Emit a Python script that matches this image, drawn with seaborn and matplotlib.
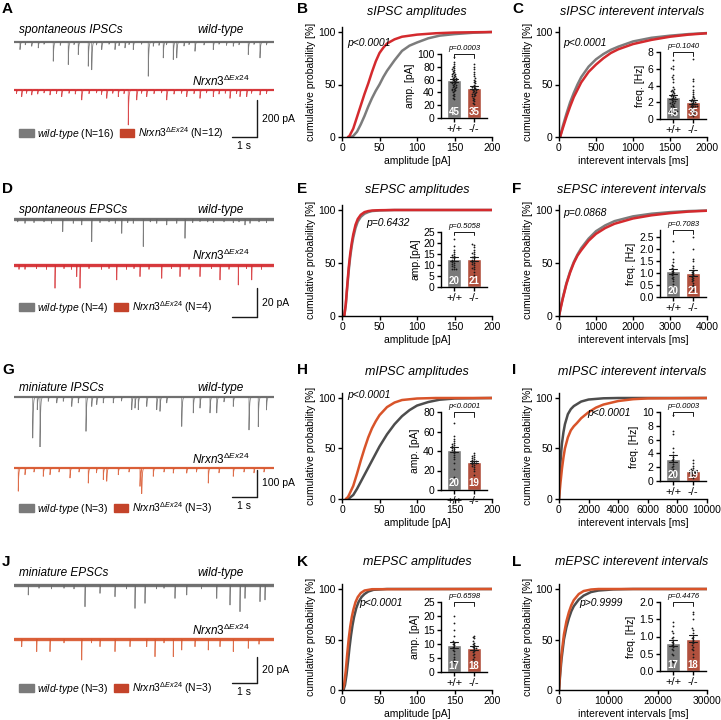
import numpy as np
import pandas as pd
import matplotlib
matplotlib.use("Agg")
import matplotlib.pyplot as plt
import seaborn as sns
from matplotlib.patches import Patch

# ---- example traces: event times [s] and amplitudes [pA] ----
sipsc_wt_t = [0.24, 0.45, 0.71, 0.97, 1.2, 1.57, 1.85, 2.17, 2.4, 2.57, 2.97, 3.11, 3.3, 3.51, 3.8, 4.04, 4.2,
              4.44, 4.6, 4.77, 5.1, 5.37, 5.57, 5.8, 5.97, 6.1, 6.37, 6.51, 6.8, 7.0, 7.24, 7.6, 7.97, 8.2,
              8.5, 8.77, 9.0, 9.37, 9.6, 9.84, 10.1]
sipsc_wt_a = [41, 15, 23, 32, 12, 104, 18, 122, 14, 68, 131, 150, 16, 41, 12, 41, 20, 32, 14, 41, 12, 185, 23,
              18, 86, 15, 95, 86, 22, 14, 50, 16, 41, 12, 18, 23, 15, 68, 13, 86, 16]
sipsc_ko_t = [0.1, 0.31, 0.5, 0.71, 0.95, 1.2, 1.44, 1.7, 1.91, 2.2, 2.45, 2.71, 3.0, 3.3, 3.5, 3.71, 3.95,
              4.17, 4.4, 4.57, 4.91, 5.1, 5.31, 5.6, 5.9, 6.11, 6.4, 6.7, 6.91, 7.2, 7.44, 7.7, 7.97, 8.2,
              8.45, 8.64, 8.9, 9.04, 9.31, 9.5, 9.84, 10.1]
sipsc_ko_a = [20, 36, 18, 27, 22, 16, 27, 20, 36, 18, 22, 54, 20, 16, 24, 45, 18, 36, 20, 189, 54, 18, 36, 20,
              16, 54, 22, 18, 36, 20, 45, 16, 36, 22, 18, 45, 20, 36, 36, 18, 27, 20]

sepsc_wt_t = [0.15, 0.44, 0.8, 1.2, 1.5, 1.95, 2.37, 2.71, 3.11, 3.44, 3.8, 4.05, 4.31, 4.55, 4.77, 5.17, 5.45,
              5.71, 6.11, 6.51, 6.84, 7.15, 7.44, 7.75, 7.97, 8.4, 8.77, 9.0, 9.24, 9.44, 9.8, 10.1]
sepsc_wt_a = [2, 3, 2.5, 2, 3, 8.7, 3, 4.1, 15.6, 2.5, 2, 3, 9.9, 2.5, 3, 19, 2, 3, 4.1, 3, 13.3, 2.5, 1.8, 2,
              2.5, 2, 2.5, 2, 4.1, 3, 2, 2.5]
sepsc_ko_t = [0.2, 0.44, 0.9, 1.3, 1.64, 2.0, 2.3, 2.51, 2.64, 3.0, 3.5, 3.8, 4.11, 4.5, 4.8, 5.04, 5.4, 5.91,
              6.3, 6.64, 7.0, 7.44, 7.9, 8.24, 8.6, 8.97, 9.3, 9.51, 9.9]
sepsc_ko_a = [3, 3, 2.5, 3, 16, 2.5, 3, 8, 16, 2.5, 3, 2.5, 10.3, 3, 2.5, 8, 3, 9.2, 2.5, 8, 3, 8, 2.5, 10.3, 3,
              13.8, 2.5, 10.3, 3]

mipsc_wt_t = [0.75, 0.93, 1.04, 1.37, 1.71, 1.97, 2.31, 2.57, 2.88, 3.11, 3.31, 3.57, 3.97, 4.3, 4.71, 4.84,
              4.97, 5.31, 5.71, 5.84, 6.11, 6.71, 7.17, 7.44, 7.84, 8.11, 8.4, 8.77, 9.4, 9.77, 10.1]
mipsc_wt_a = [152, 47, 195, 16, 22, 16, 35, 22, 127, 35, 28, 22, 22, 15, 47, 41, 47, 35, 47, 53, 22, 109, 59,
              41, 59, 59, 18, 35, 122, 110, 48]
mipsc_ko_t = [0.17, 0.44, 0.8, 1.17, 1.44, 1.8, 2.24, 2.6, 2.97, 3.3, 3.57, 3.71, 4.17, 4.6, 5.04, 5.11, 5.57,
              6.0, 6.37, 6.91, 7.3, 7.77, 8.2, 8.77, 9.2, 9.6, 10.0]
mipsc_ko_a = [86, 25, 15, 31, 25, 15, 37, 15, 56, 18, 43, 49, 25, 15, 68, 93, 31, 15, 19, 19, 15, 56, 18, 31,
              15, 18, 15]

mepsc_wt_t = [0.57, 1.0, 1.5, 2.0, 2.4, 2.84, 3.44, 4.04, 4.5, 4.84, 5.24, 5.7, 6.0, 6.44, 6.91, 7.5, 8.11,
              8.64, 9.04, 9.24, 9.84, 10.04]
mepsc_wt_a = [7.7, 2.5, 3, 2.5, 3, 16.7, 6.4, 9, 3, 18, 14.1, 3, 2.5, 10.3, 7.7, 3, 10.3, 15.4, 20.5, 10.3,
              12.8, 11.5]
mepsc_ko_t = [0.31, 0.91, 1.44, 2.0, 2.71, 3.1, 3.44, 4.04, 4.64, 5.31, 5.64, 6.0, 6.37, 6.71, 7.24, 7.77,
              8.24, 8.77, 9.37, 9.8]
mepsc_ko_a = [5.9, 9.7, 9.7, 3, 16.2, 3, 5.9, 9.7, 5.9, 5.9, 13.6, 3, 13.6, 8.5, 5.9, 8.5, 5.9, 9.7, 7.2, 4]

n_mice_wt = [16, 4, 3, 3]
n_mice_ko = [12, 4, 3, 3]

# ---- cumulative distributions (x, cumulative %) ----
b_wt_x = [12, 15, 20, 25, 30, 35, 40, 45, 50, 55, 60, 70, 80, 90, 100, 115, 130, 150, 175, 200]
b_wt_y = [0, 1, 5, 12, 20, 29, 37, 44, 50, 57, 63, 73, 82, 87, 90, 94, 96.5, 98, 99.3, 100]
b_ko_x = [8, 10, 15, 20, 25, 30, 35, 40, 45, 50, 55, 60, 70, 80, 100, 125, 150, 200]
b_ko_y = [0, 1, 8, 19, 30, 41, 51, 62, 72, 80, 85, 89, 93, 95.5, 97.5, 98.8, 99.5, 100]

c_x = [15, 50, 100, 150, 200, 250, 300, 400, 500, 600, 700, 800, 1000, 1250, 1500, 1750, 2000]
c_wt_y = [0, 10, 22, 33, 42, 50, 57, 67, 74, 79, 83, 86, 91, 94.5, 96.5, 98, 99]
c_ko_y = [0, 8, 19, 29, 38, 45, 52, 62, 69, 75, 80, 83.5, 88.5, 92.5, 95.5, 97.5, 98.8]

e_x = [3, 5, 7, 9, 11, 13, 15, 18, 21, 25, 30, 35, 40, 50, 70, 100, 200]
e_wt_y = [0, 10, 27, 43, 56, 66, 74, 83, 89, 93.5, 96.5, 98, 99, 99.6, 100, 100, 100]
e_ko_y = [0, 11, 29, 46, 59, 69, 77, 86, 91.5, 95.5, 98, 99, 99.5, 99.8, 100, 100, 100]

f_x = [0, 50, 100, 200, 300, 400, 500, 600, 800, 1000, 1250, 1500, 2000, 2500, 3000, 3500, 4000]
f_wt_y = [0, 9, 17, 31, 42, 51, 58, 64, 73, 80, 85.5, 89.5, 94, 96.5, 98, 99, 99.5]
f_ko_y = [0, 8, 16, 30, 41, 50, 57, 62, 71, 77.5, 83, 87, 92, 95, 97, 98.5, 99.3]

h_wt_x = [8, 10, 15, 20, 25, 30, 35, 40, 45, 50, 60, 70, 80, 90, 100, 115, 130, 150, 200]
h_wt_y = [0, 1, 4, 10, 17, 24, 31, 38, 45, 52, 64, 74, 82, 88, 92.5, 96, 98.3, 99.5, 100]
h_ko_x = [5, 8, 10, 15, 20, 25, 30, 35, 40, 45, 50, 60, 70, 80, 100, 125, 200]
h_ko_y = [0, 2, 5, 13, 25, 38, 50, 61, 70, 77, 83, 91, 95.5, 98, 99.5, 100, 100]

i_wt_x = [0, 50, 100, 150, 200, 300, 400, 600, 800, 1000, 1500, 2000, 3000, 4000, 10000]
i_wt_y = [0, 20, 36, 47, 55, 66, 74, 84, 89, 92, 96.5, 98.5, 99.7, 100, 100]
i_ko_x = [0, 50, 100, 200, 300, 400, 600, 800, 1000, 1200, 1500, 2000, 2500, 3000, 4000, 5000, 6000, 10000]
i_ko_y = [0, 8, 16, 30, 41, 50, 61, 68, 72, 75, 80, 86, 90.5, 93.5, 97, 98.8, 99.6, 100]

k_wt_x = [2, 4, 6, 8, 10, 12, 14, 16, 19, 22, 26, 30, 35, 42, 60, 200]
k_wt_y = [0, 5, 15, 28, 42, 54, 64, 72, 81, 87, 92, 95, 97.5, 99.2, 100, 100]
k_ko_x = [1, 3, 5, 7, 9, 11, 13, 15, 18, 21, 25, 30, 40, 200]
k_ko_y = [0, 6, 19, 36, 51, 63, 72, 79, 87, 92, 96, 98.5, 99.8, 100]

l_wt_x = [0, 250, 500, 1000, 1500, 2000, 2500, 3000, 4000, 5000, 6500, 8000, 11000, 15000, 30000]
l_wt_y = [0, 16, 30, 50, 62, 71, 78, 83, 89.5, 93.5, 97, 98.5, 99.6, 100, 100]
l_ko_x = [0, 250, 500, 1000, 1500, 2000, 2500, 3000, 4000, 5000, 6500, 8000, 30000]
l_ko_y = [0, 20, 35, 55, 68, 77, 84, 89, 95, 98, 99.5, 100, 100]

# ---- per-cell values for the bar insets ----
sipsc_amp_wt = [95, 88, 85, 82, 80, 78, 76, 75, 73, 72, 70, 69, 68, 67, 66, 65, 64, 63, 62, 61, 60, 59, 58,
                57, 56, 55, 54, 53, 52, 51, 50, 49, 48, 47, 46, 45, 44, 43, 42, 40, 38, 36, 34, 32, 30]
sipsc_amp_ko = [85, 80, 76, 72, 68, 65, 62, 60, 58, 56, 54, 52, 50, 49, 48, 47, 46, 45, 44, 43, 42, 41, 40,
                39, 38, 37, 36, 35, 34, 32, 30, 28, 26, 24, 22]
sipsc_freq_wt = [7.0, 6.3, 6.1, 6.0, 5.0, 5.2, 4.8, 4.4, 3.8, 3.6, 3.5, 3.4, 3.3, 3.2, 3.1, 3.0, 2.9, 2.8, 2.7,
                 2.6, 2.5, 2.4, 2.3, 2.2, 2.1, 2.0, 1.9, 1.9, 1.8, 1.7, 1.6, 1.5, 1.4, 1.3, 1.2, 1.1, 1.0, 1.0,
                 0.9, 0.8, 0.7, 0.6, 0.5, 0.9, 0.8]
sipsc_freq_ko = [7.2, 4.8, 4.5, 3.9, 3.5, 3.2, 3.0, 2.8, 2.6, 2.5, 2.4, 2.3, 2.2, 2.1, 2.0, 1.9, 1.8, 1.7, 1.6,
                 1.6, 1.5, 1.5, 1.4, 1.3, 1.3, 1.2, 1.1, 1.0, 1.0, 0.9, 0.8, 0.7, 0.6, 0.5, 0.4]
sepsc_amp_wt = [22, 18.5, 17, 16, 15, 14.5, 14, 13.5, 13, 12.5, 12, 11.5, 11, 10.5, 10, 9.5, 9, 8, 8, 8]
sepsc_amp_ko = [19.5, 19, 18, 17, 16, 15.5, 15, 14, 13.5, 13, 12.5, 12, 11.5, 11, 10.5, 10, 9, 8.5, 8, 7, 5.5]
sepsc_freq_wt = [2.35, 1.9, 1.6, 1.45, 1.35, 1.3, 1.2, 1.15, 1.1, 1.05, 1.0, 0.95, 0.9, 0.85, 0.8, 0.75, 0.65,
                 0.55, 0.4, 0.3]
sepsc_freq_ko = [2.5, 2.0, 1.6, 1.5, 1.3, 1.2, 1.1, 1.05, 1.0, 0.95, 0.9, 0.85, 0.8, 0.75, 0.7, 0.65, 0.6, 0.5,
                 0.45, 0.4, 0.3]
mipsc_amp_wt = [69, 55, 52, 50, 48, 47, 46, 45, 44, 43, 42, 41, 40, 38, 36, 34, 32, 28, 22, 13]
mipsc_amp_ko = [38, 36, 35, 34, 33, 32, 31, 30, 30, 29, 28, 28, 27, 26, 25, 24, 22, 19, 15]
mipsc_freq_wt = [9.5, 7.2, 6.8, 4.8, 4.2, 3.8, 3.5, 3.2, 3.0, 2.8, 2.5, 2.2, 2.0, 1.8, 1.6, 1.5, 1.3, 1.2, 1.0, 0.8]
mipsc_freq_ko = [3.0, 2.6, 2.2, 1.9, 1.7, 1.6, 1.5, 1.4, 1.4, 1.3, 1.2, 1.2, 1.1, 1.0, 0.9, 0.8, 0.7, 0.6, 0.5]
mepsc_amp_wt = [20, 17.5, 15, 13, 11, 10.5, 10, 9.5, 9, 8.5, 8, 7.5, 6.5, 5.5, 4.5, 4, 3.5]
mepsc_amp_ko = [13, 12.5, 12, 11, 10.5, 10, 9.5, 9, 8.5, 8.5, 8, 7.5, 7, 6.5, 6, 5.5, 4.5, 4]
mepsc_freq_wt = [1.42, 1.3, 1.15, 1.1, 1.0, 0.95, 0.9, 0.85, 0.8, 0.75, 0.7, 0.65, 0.6, 0.5, 0.45, 0.3, 0.25]
mepsc_freq_ko = [1.72, 1.65, 1.5, 1.25, 1.2, 1.1, 1.0, 0.95, 0.9, 0.85, 0.8, 0.75, 0.7, 0.65, 0.6, 0.5, 0.4, 0.3]

# ---- style ----
sns.set_theme(style="ticks")
plt.rcParams["font.family"] = ["Liberation Sans", "DejaVu Sans"]
plt.rcParams.update({
    "mathtext.fontset": "custom",
    "mathtext.rm": "Liberation Sans",
    "mathtext.it": "Liberation Sans:italic",
    "mathtext.bf": "Liberation Sans:bold",
    "axes.edgecolor": "black", "axes.linewidth": 1.0,
    "xtick.color": "black", "ytick.color": "black",
    "xtick.major.width": 1.0, "ytick.major.width": 1.0,
    "xtick.major.size": 3, "ytick.major.size": 3,
    "xtick.major.pad": 1.5, "ytick.major.pad": 1.5,
    "xtick.labelsize": 7.5, "ytick.labelsize": 7.5,
    "axes.labelcolor": "black", "text.color": "black",
})

GRAY, RED, ORANGE, DARK = "#7c7c7c", "#d42a2e", "#d8542a", "#4d4d4d"
BAR_WT, BAR_KO = "#7a7a7a", "#c4432a"

W, H = 721, 720
fig = plt.figure(figsize=(W / 100, H / 100), dpi=100)


def box(x0, y0, x1, y1):
    return [x0 / W, 1 - y1 / H, (x1 - x0) / W, (y1 - y0) / H]


def ftxt(x, y, s, **kw):
    fig.text(x / W, 1 - y / H, s, **kw)


KO_LABEL = r"$\it{Nrxn3}^{\Delta\it{Ex24}}$"
TX0, DUR, PX_S = 14, 10.4, 25.0


def trace(t_ev, a_ev, base, pa_px, color, tau, band):
    ax = fig.add_axes(box(TX0, base - 10, TX0 + DUR * PX_S, base + 50))
    t = np.arange(0, DUR, 0.001)
    y = np.zeros_like(t)
    for t0, a in zip(t_ev, a_ev):
        m = t >= t0
        y[m] -= a * np.exp(-(t[m] - t0) / tau)
    ax.axhline(0, color=color, lw=band, alpha=0.9)
    ax.plot(t, y, color=color, lw=0.55, alpha=0.85)
    ax.set_xlim(0, DUR)
    ax.set_ylim(-50 / pa_px, 10 / pa_px)
    ax.axis("off")
    return ax


def trace_row(row, letter, title, wt_ev, ko_ev, pa_px, bar_pa, ko_col, tau, band):
    ttl_y, wt_base, ko_lab_y, ko_base, leg_y, bar_bot = ROW_GEO[row]
    ftxt(2, LETTER_Y[row], letter, fontsize=11, fontweight="bold", va="center")
    ftxt(19, ttl_y, title, fontsize=8.5, style="italic", va="center")
    ftxt(244, ttl_y, "wild-type", fontsize=8.5, style="italic", va="center", ha="right")
    ftxt(250, ko_lab_y, KO_LABEL, fontsize=8.5, va="center", ha="right")
    trace(wt_ev[0], wt_ev[1], wt_base, pa_px, "#666666", tau, band)
    ax = trace(ko_ev[0], ko_ev[1], ko_base, pa_px, ko_col, tau, band)
    yb = -(bar_bot - ko_base) / pa_px
    ax.plot([8.72, 9.72], [yb, yb], color="k", lw=1.0, clip_on=False)
    ax.plot([9.72, 9.72], [yb, yb + bar_pa], color="k", lw=1.0, clip_on=False)
    ax.text(9.92, yb + bar_pa / 2, f"{bar_pa} pA", fontsize=7.5, va="center", ha="left")
    ax.annotate("1 s", xy=(9.22, yb), xytext=(0, -3), textcoords="offset points",
                ha="center", va="top", fontsize=7.5)
    handles = [Patch(color=BAR_WT), Patch(color=BAR_KO)]
    labels = [r"$\it{wild}$-$\it{type}$ (N=%d)" % n_mice_wt[row],
              KO_LABEL + " (N=%d)" % n_mice_ko[row]]
    fig.legend(handles, labels, loc="center left", bbox_to_anchor=(19 / W, 1 - leg_y / H), ncol=2,
               frameon=False, fontsize=7.5, handlelength=1.4, handleheight=0.75, handletextpad=0.35,
               columnspacing=0.5, borderpad=0, borderaxespad=0)


COLX = [(342, 492), (559, 707)]
ROWY = [(32, 137), (210, 316), (398, 499), (589, 690)]
LETTER_Y = [9, 189, 370, 562]
TITLE_Y = [12, 190, 372, 562]
ROW_GEO = [(30, 42, 81, 90, 133, 137), (210, 219, 255, 265, 307, 317),
           (388, 397, 459, 468, 508, 497), (573, 585, 630, 639, 688, 683)]


def cdf(col, row, letter, title, wt_x, wt_y, ko_x, ko_y, xmax, xticks, xlabel, pal, ptxt, ppos):
    x0, x1 = COLX[col]
    y100, y0 = ROWY[row]
    ax = fig.add_axes(box(x0, y0 - 1.05 * (y0 - y100), x1, y0))
    df = pd.DataFrame({"x": wt_x + ko_x, "y": wt_y + ko_y,
                       "g": ["+/+"] * len(wt_x) + ["-/-"] * len(ko_x)})
    sns.lineplot(data=df, x="x", y="y", hue="g", palette={"+/+": pal[0], "-/-": pal[1]},
                 estimator=None, sort=False, lw=1.8, legend=False, ax=ax)
    ax.set_xlim(0, xmax)
    ax.set_ylim(0, 105)
    ax.set_xticks(xticks)
    ax.set_yticks([0, 50, 100])
    ax.set_xlabel(xlabel, fontsize=7.5, labelpad=2)
    ax.set_ylabel("cumulative probability [%]", fontsize=7.5, labelpad=2)
    ax.text(ppos[0], ppos[1], ptxt, fontsize=7.5, style="italic", va="center")
    sns.despine(ax=ax)
    lx = 297 if col == 0 else 512
    ftxt(lx, LETTER_Y[row], letter, fontsize=11, fontweight="bold", va="center")
    ftxt((x0 + x1) / 2 + (0 if col == 0 else -1), TITLE_Y[row], title, fontsize=9, style="italic",
         ha="center", va="center")


INX = [441, 660]


def inset(col, top, bot, wt, ko, ymax, yticks, ylabel, ptxt):
    left = INX[col]
    ax = fig.add_axes(box(left, top, left + 46, bot))
    df = pd.DataFrame({"v": wt + ko, "g": ["+/+"] * len(wt) + ["-/-"] * len(ko)})
    sns.barplot(data=df, x="g", y="v", hue="g", palette={"+/+": BAR_WT, "-/-": BAR_KO},
                errorbar="se", capsize=0.4, err_kws={"color": "k", "linewidth": 0.8},
                width=0.72, legend=False, ax=ax)
    sns.swarmplot(data=df, x="g", y="v", color="k", size=1.3, ax=ax)
    ax.set_xlim(-0.65, 1.65)
    ax.set_ylim(0, ymax)
    ax.set_yticks(yticks)
    ax.set_xlabel("")
    ax.set_ylabel(ylabel, fontsize=7.5, labelpad=2)
    ax.tick_params(axis="x", labelsize=8)
    for i, n in enumerate([len(wt), len(ko)]):
        ax.text(i, ymax * 0.02, str(n), color="white", ha="center", va="bottom",
                fontsize=7, fontweight="bold")
    tr = ax.get_xaxis_transform()
    ax.plot([0, 0, 1, 1], [0.94, 1.0, 1.0, 0.94], transform=tr, color="k", lw=0.7, clip_on=False)
    ax.text(0.5, 1.03, ptxt, transform=tr, ha="center", va="bottom", fontsize=5.5, style="italic")
    sns.despine(ax=ax)


# ---- left column: example traces ----
trace_row(0, "A", "spontaneous IPSCs", (sipsc_wt_t, sipsc_wt_a), (sipsc_ko_t, sipsc_ko_a),
          37 / 200, 200, RED, 0.02, 1.6)
trace_row(1, "D", "spontaneous EPSCs", (sepsc_wt_t, sepsc_wt_a), (sepsc_ko_t, sepsc_ko_a),
          29 / 20, 20, RED, 0.006, 2.4)
trace_row(2, "G", "miniature IPSCs", (mipsc_wt_t, mipsc_wt_a), (mipsc_ko_t, mipsc_ko_a),
          27 / 100, 100, ORANGE, 0.02, 1.6)
trace_row(3, "J", "miniature EPSCs", (mepsc_wt_t, mepsc_wt_a), (mepsc_ko_t, mepsc_ko_a),
          26 / 20, 20, ORANGE, 0.006, 2.4)

# ---- cumulative plots ----
amp_ticks = [0, 50, 100, 150, 200]
cdf(0, 0, "B", "sIPSC amplitudes", b_wt_x, b_wt_y, b_ko_x, b_ko_y, 200, amp_ticks, "amplitude [pA]",
    (GRAY, RED), "p<0.0001", (7, 90))
cdf(1, 0, "C", "sIPSC interevent intervals", c_x, c_wt_y, c_x, c_ko_y, 2000, [0, 500, 1000, 1500, 2000],
    "interevent intervals [ms]", (GRAY, RED), "p<0.0001", (54, 90))
cdf(0, 1, "E", "sEPSC amplitudes", e_x, e_wt_y, e_x, e_ko_y, 200, amp_ticks, "amplitude [pA]",
    (GRAY, RED), "p=0.6432", (32, 88))
cdf(1, 1, "F", "sEPSC interevent intervals", f_x, f_wt_y, f_x, f_ko_y, 4000, [0, 1000, 2000, 3000, 4000],
    "interevent intervals [ms]", (GRAY, RED), "p=0.0868", (108, 97))
cdf(0, 2, "H", "mIPSC amplitudes", h_wt_x, h_wt_y, h_ko_x, h_ko_y, 200, amp_ticks, "amplitude [pA]",
    (DARK, ORANGE), "p<0.0001", (7, 103))
cdf(1, 2, "I", "mIPSC interevent intervals", i_wt_x, i_wt_y, i_ko_x, i_ko_y, 10000,
    [0, 2000, 4000, 6000, 8000, 10000], "interevent intervals [ms]", (DARK, ORANGE), "p<0.0001", (1890, 85))
cdf(0, 3, "K", "mEPSC amplitudes", k_wt_x, k_wt_y, k_ko_x, k_ko_y, 200, amp_ticks, "amplitude [pA]",
    (DARK, ORANGE), "p<0.0001", (23, 86))
cdf(1, 3, "L", "mEPSC interevent intervals", l_wt_x, l_wt_y, l_ko_x, l_ko_y, 30000, [0, 10000, 20000, 30000],
    "interevent intervals [ms]", (DARK, ORANGE), "p>0.9999", (4050, 86))

# ---- bar insets ----
inset(0, 54, 118, sipsc_amp_wt, sipsc_amp_ko, 100, range(0, 101, 20), "amp. [pA]", "p=0.0003")
inset(1, 52, 119, sipsc_freq_wt, sipsc_freq_ko, 8, [0, 2, 4, 6, 8], "freq. [Hz]", "p=0.1040")
inset(0, 232, 287, sepsc_amp_wt, sepsc_amp_ko, 25, range(0, 26, 5), "amp.[pA]", "p=0.5058")
inset(1, 230, 297, sepsc_freq_wt, sepsc_freq_ko, 2.8, [0, 0.5, 1.0, 1.5, 2.0, 2.5], "freq. [Hz]", "p=0.7083")
inset(0, 412, 490, mipsc_amp_wt, mipsc_amp_ko, 80, range(0, 81, 20), "amp. [pA]", "p<0.0001")
inset(1, 412, 481, mipsc_freq_wt, mipsc_freq_ko, 10, range(0, 11, 2), "freq. [Hz]", "p=0.0003")
inset(0, 602, 672, mepsc_amp_wt, mepsc_amp_ko, 25, range(0, 26, 5), "amp. [pA]", "p=0.6598")
inset(1, 602, 671, mepsc_freq_wt, mepsc_freq_ko, 2.0, [0, 0.5, 1.0, 1.5, 2.0], "freq. [Hz]", "p=0.4476")

fig.savefig("out.png", dpi=100)
